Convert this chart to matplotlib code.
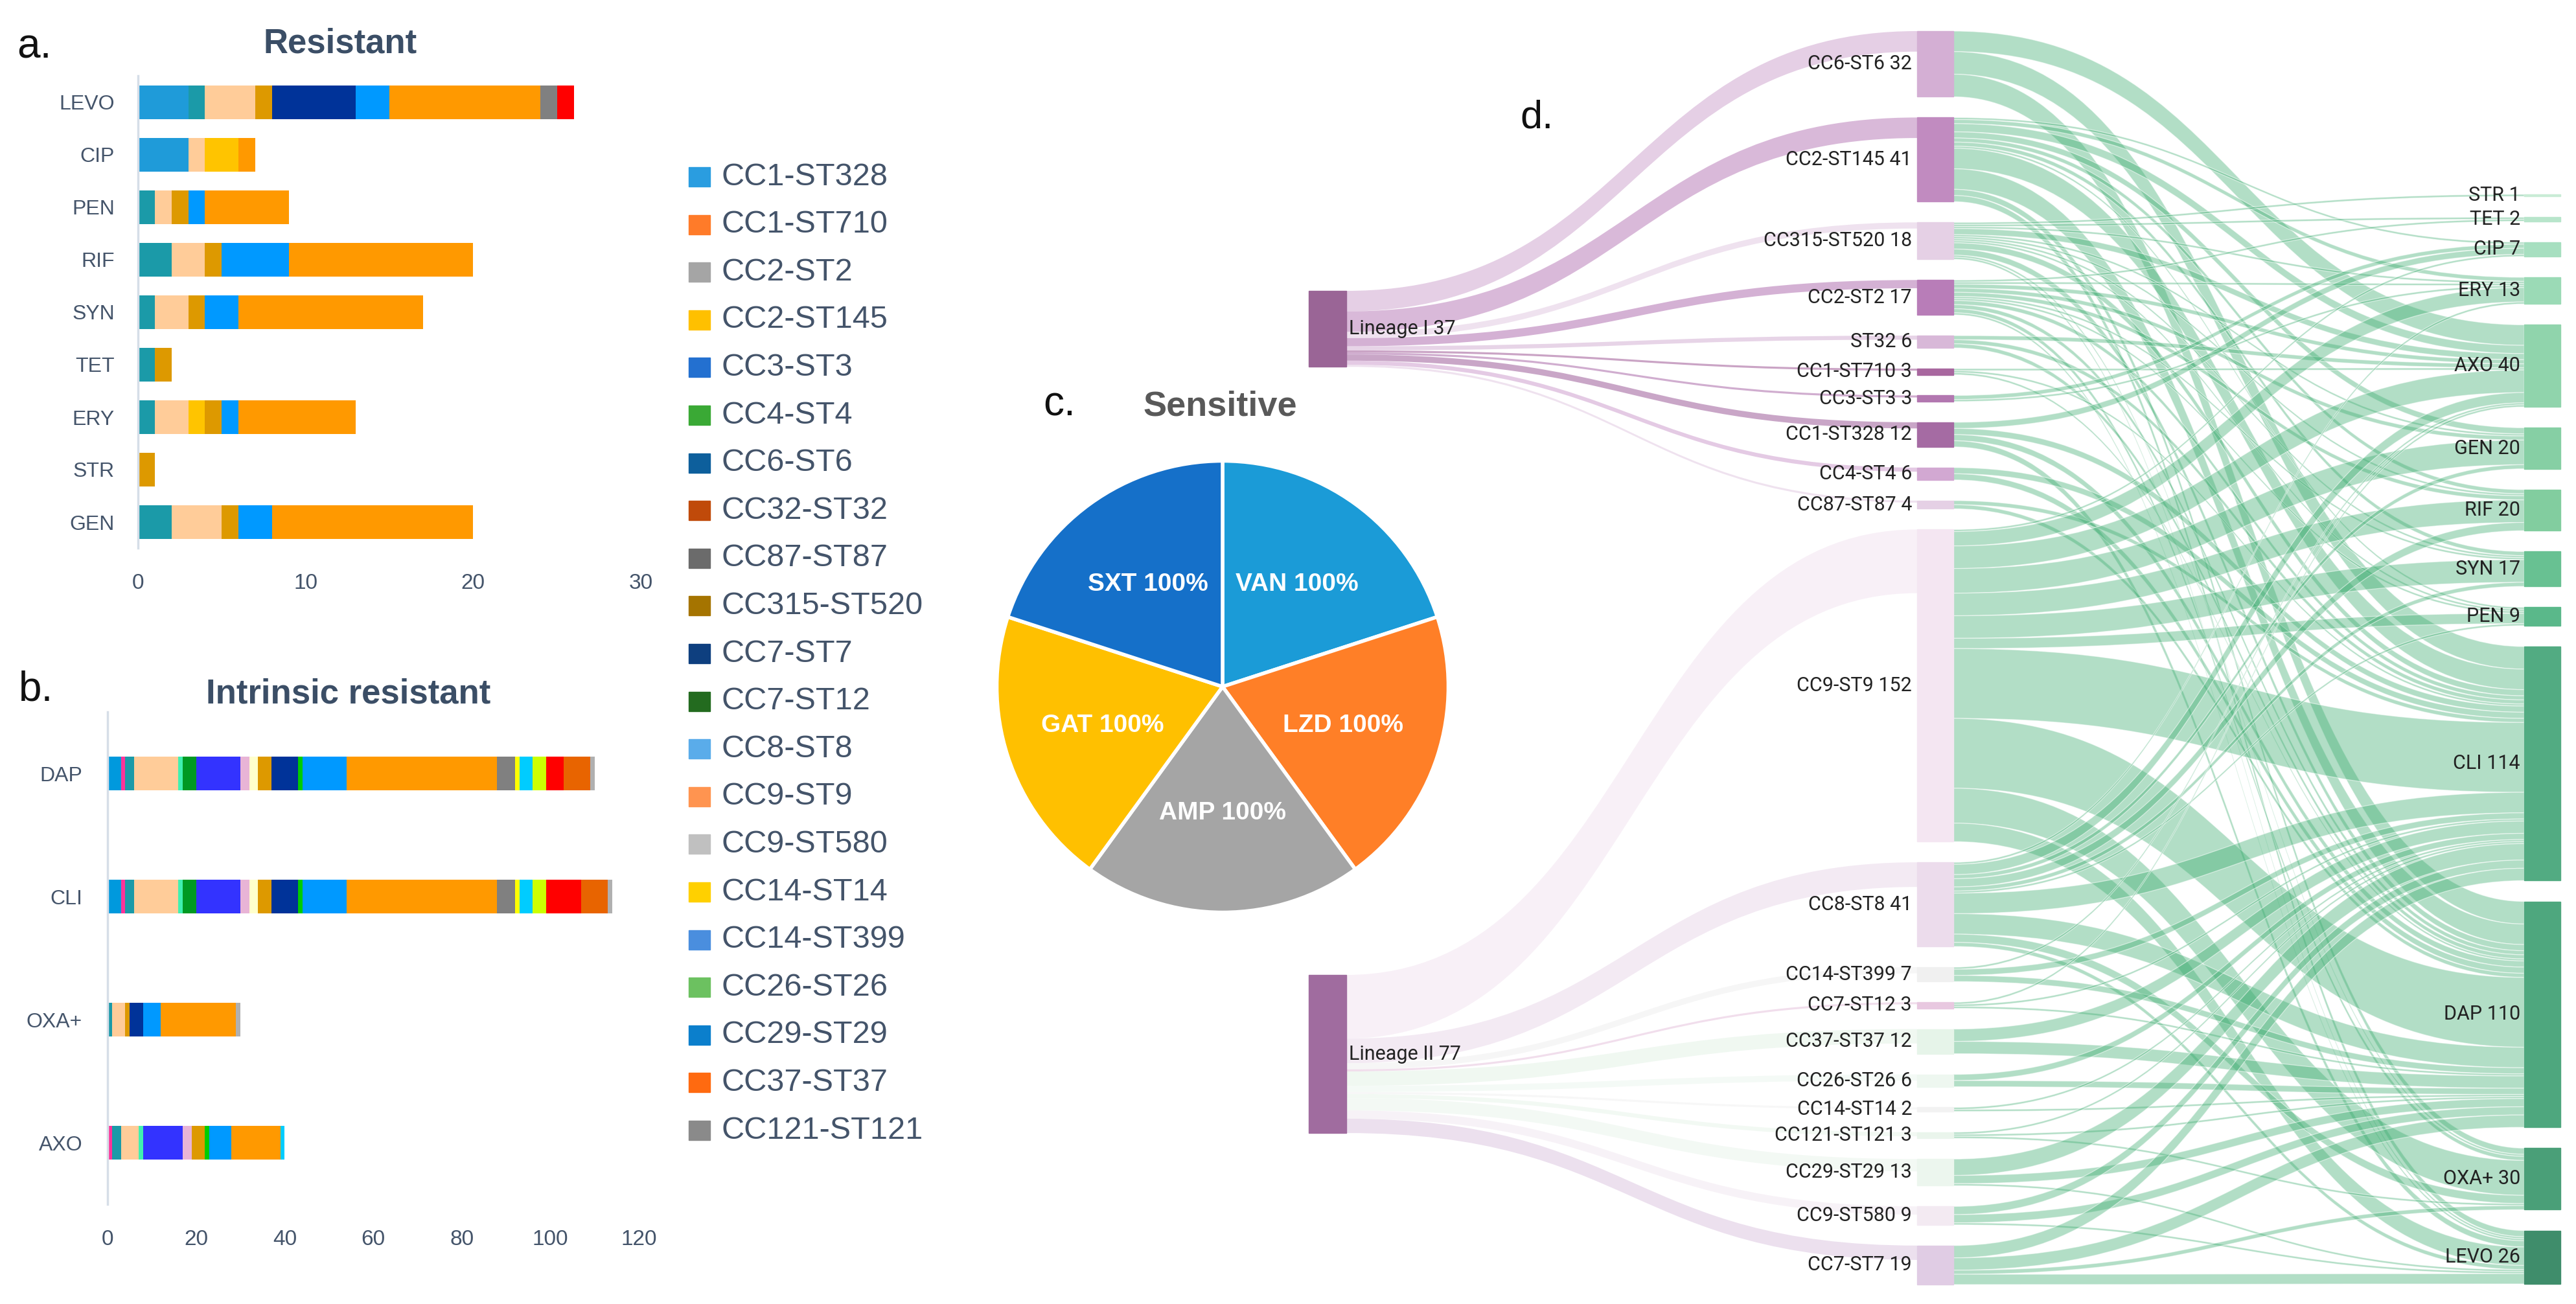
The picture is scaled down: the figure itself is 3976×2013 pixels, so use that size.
import numpy as np
import matplotlib
matplotlib.use("Agg")
import matplotlib.pyplot as plt
from matplotlib.path import Path
from matplotlib.patches import PathPatch, Rectangle
from matplotlib.colors import to_rgba

W, H = 3976, 2013

# ---------------- data ----------------
# a. resistant (stacked by lineage colour)
res_drugs = ["LEVO", "CIP", "PEN", "RIF", "SYN", "TET", "ERY", "STR", "GEN"]
res_colors = ["#1f9bd9", "#1b9aa8", "#ffcc99", "#ffc400", "#dd9900",
              "#003399", "#0099ff", "#ff9900", "#808080", "#ff0000"]
res_values = [
    [3, 3, 0, 0, 0, 0, 0, 0, 0],
    [1, 0, 1, 2, 1, 1, 1, 0, 2],
    [3, 1, 1, 2, 2, 0, 2, 0, 3],
    [0, 2, 0, 0, 0, 0, 1, 0, 0],
    [1, 0, 1, 1, 1, 1, 1, 1, 1],
    [5, 0, 0, 0, 0, 0, 0, 0, 0],
    [2, 0, 1, 4, 2, 0, 1, 0, 2],
    [9, 1, 5, 11, 11, 0, 7, 0, 12],
    [1, 0, 0, 0, 0, 0, 0, 0, 0],
    [1, 0, 0, 0, 0, 0, 0, 0, 0],
]

# b. intrinsic resistant
int_drugs = ["DAP", "CLI", "OXA+", "AXO"]
int_colors = ["#0099dd", "#ff3399", "#1b9aa8", "#ffcc99", "#40f0b0", "#009922",
              "#3333ff", "#e8b4d6", "#ffffcc", "#dd9900", "#003399", "#00cc00",
              "#0099ff", "#ff9900", "#808080", "#ffff00", "#00ccff", "#ccff00",
              "#ff0000", "#e86400", "#b0b0b0"]
int_values = [
    [3, 3, 0, 0], [1, 1, 0, 1], [2, 2, 1, 2], [10, 10, 3, 4], [1, 1, 0, 1],
    [3, 3, 0, 0], [10, 10, 0, 9], [2, 2, 0, 2], [2, 2, 0, 0], [3, 3, 1, 3],
    [6, 6, 3, 0], [1, 1, 0, 1], [10, 10, 4, 5], [34, 34, 17, 11], [4, 4, 0, 0],
    [1, 1, 0, 0], [3, 3, 0, 1], [3, 3, 0, 0], [4, 8, 0, 0], [6, 6, 0, 0],
    [1, 1, 1, 0],
]

legend_labels = ["CC1-ST328", "CC1-ST710", "CC2-ST2", "CC2-ST145", "CC3-ST3",
                 "CC4-ST4", "CC6-ST6", "CC32-ST32", "CC87-ST87", "CC315-ST520",
                 "CC7-ST7", "CC7-ST12", "CC8-ST8", "CC9-ST9", "CC9-ST580",
                 "CC14-ST14", "CC14-ST399", "CC26-ST26", "CC29-ST29",
                 "CC37-ST37", "CC121-ST121"]
legend_colors = ["#2a9de0", "#ff7b29", "#a5a5a5", "#ffc000", "#2370d0",
                 "#3aa935", "#0d5f9c", "#c04a0a", "#6b6b6b", "#a57400",
                 "#0e3f7f", "#236b1f", "#5aacea", "#ff9450", "#c0c0c0",
                 "#ffd000", "#4a8ede", "#6cc160", "#0b7fcc", "#ff6a10",
                 "#8a8a8a"]

# c. sensitive
sens_drugs = ["VAN", "LZD", "AMP", "GAT", "SXT"]
sens_pct = [100, 100, 100, 100, 100]
sens_colors = ["#1b9bd7", "#ff7f27", "#a5a5a5", "#ffc000", "#1570c9"]

# d. sankey
lineages = ["Lineage I", "Lineage II"]
st_names = ["CC6-ST6", "CC2-ST145", "CC315-ST520", "CC2-ST2", "ST32",
            "CC1-ST710", "CC3-ST3", "CC1-ST328", "CC4-ST4", "CC87-ST87",
            "CC9-ST9", "CC8-ST8", "CC14-ST399", "CC7-ST12", "CC37-ST37",
            "CC26-ST26", "CC14-ST14", "CC121-ST121", "CC29-ST29",
            "CC9-ST580", "CC7-ST7"]
st_lineage = [0] * 10 + [1] * 11
st_isolates = [10, 10, 3, 4, 2, 1, 1, 3, 2, 1,
               31, 12, 3, 1, 7, 3, 1, 2, 6, 4, 7]
st_colors = ["#d4afd4", "#c18bc0", "#e5d0e5", "#b87db8", "#d8b8d8",
             "#a8679f", "#b277b0", "#a56ba3", "#d2a8d2", "#e5d0e5",
             "#f4e6f2", "#ecdcec", "#f0f0f0", "#e8c8e0", "#e6f4e9",
             "#eef7f0", "#f2f2f2", "#eaf5ec", "#ecf6ee", "#f3eaf2", "#e0cce4"]
ab_names = ["STR", "TET", "CIP", "ERY", "AXO", "GEN", "RIF", "SYN", "PEN",
            "CLI", "DAP", "OXA+", "LEVO"]
ab_colors = ["#c9ecd6", "#b8e5cb", "#a7dfc0", "#9bdab6", "#90d4ac", "#86cfa4",
             "#82cd9f", "#68c192", "#5ab88a", "#52ab82", "#4ea77e", "#4a9f78",
             "#3f8d6b"]
flows = [
    [0, 0, 0, 0, 10, 0, 0, 0, 0, 11, 11, 0, 0],
    [0, 0, 1, 2, 4, 3, 2, 2, 1, 10, 10, 3, 3],
    [1, 1, 0, 1, 3, 1, 1, 1, 1, 3, 3, 1, 1],
    [0, 1, 0, 1, 2, 2, 2, 1, 1, 2, 2, 2, 1],
    [0, 0, 0, 0, 2, 0, 0, 0, 0, 2, 2, 0, 0],
    [0, 0, 0, 0, 1, 0, 0, 0, 0, 1, 1, 0, 0],
    [0, 0, 2, 1, 0, 0, 0, 0, 0, 0, 0, 0, 0],
    [0, 0, 3, 0, 0, 0, 0, 0, 0, 3, 3, 0, 3],
    [0, 0, 0, 0, 0, 0, 0, 0, 0, 3, 3, 0, 0],
    [0, 0, 0, 0, 0, 0, 0, 0, 0, 2, 2, 0, 0],
    [0, 0, 1, 7, 11, 12, 11, 11, 5, 34, 34, 17, 9],
    [0, 0, 0, 1, 5, 2, 4, 2, 1, 10, 10, 4, 2],
    [0, 0, 0, 0, 1, 0, 0, 0, 0, 3, 3, 0, 0],
    [0, 0, 0, 0, 1, 0, 0, 0, 0, 1, 1, 0, 0],
    [0, 0, 0, 0, 0, 0, 0, 0, 0, 6, 6, 0, 0],
    [0, 0, 0, 0, 0, 0, 0, 0, 0, 3, 3, 0, 0],
    [0, 0, 0, 0, 0, 0, 0, 0, 0, 1, 1, 0, 0],
    [0, 0, 0, 0, 0, 0, 0, 0, 0, 1, 1, 1, 0],
    [0, 0, 0, 0, 0, 0, 0, 0, 0, 8, 4, 0, 1],
    [0, 0, 0, 0, 0, 0, 0, 0, 0, 4, 4, 0, 1],
    [0, 0, 0, 0, 0, 0, 0, 0, 0, 6, 6, 2, 5],
]

# ---------------- figure ----------------
plt.rcParams["font.family"] = ["Liberation Sans", "DejaVu Sans"]
fig = plt.figure(figsize=(W / 100, H / 100), dpi=100)
fig.patch.set_facecolor("white")


def px_rect(x0, y0, x1, y1):
    return [x0 / W, 1 - y1 / H, (x1 - x0) / W, (y1 - y0) / H]


tick_col = "#44546a"
title_col = "#3b4e66"


def stacked(ax, drugs, colors, values, xmax, xstep, height):
    y = np.arange(len(drugs))
    left = np.zeros(len(drugs))
    for col, vals in zip(colors, values):
        vals = np.array(vals, float)
        ax.barh(y, vals, left=left, height=height, color=col, linewidth=0)
        left += vals
    ax.set_xlim(0, xmax)
    ax.set_ylim(len(drugs) - 0.5, -0.5)
    ax.set_xticks(np.arange(0, xmax + 1, xstep))
    ax.set_yticks(y, drugs)
    for s in ["top", "right", "bottom"]:
        ax.spines[s].set_visible(False)
    ax.spines["left"].set_color("#d6dee8")
    ax.spines["left"].set_linewidth(2.5)
    ax.tick_params(length=0, labelsize=23, colors=tick_col)
    ax.tick_params(axis="x", pad=28, labelsize=24)
    ax.tick_params(axis="y", pad=26)


ax_a = fig.add_axes(px_rect(213, 117.5, 989, 846.5))
stacked(ax_a, res_drugs, res_colors, res_values, 30, 10, 0.64)
ax_b = fig.add_axes(px_rect(166, 1099, 986, 1859))
stacked(ax_b, int_drugs, int_colors, int_values, 120, 20, 0.275)
ax_b.tick_params(axis="y", pad=28)

fig.text(26 / W, 1 - 90 / H, "a.", fontsize=46, va="baseline", color="#111")
fig.text(525 / W, 1 - 82 / H, "Resistant", fontsize=38, fontweight="bold",
         color=title_col, ha="center", va="baseline")
fig.text(29 / W, 1 - 1082 / H, "b.", fontsize=46, va="baseline", color="#111")
fig.text(538 / W, 1 - 1086 / H, "Intrinsic resistant", fontsize=38,
         fontweight="bold", color=title_col, ha="center", va="baseline")

# legend
for i, (lab, col) in enumerate(zip(legend_labels, legend_colors)):
    yc = 273 + i * 73.6
    fig.patches.append(Rectangle((1063 / W, 1 - (yc + 15) / H), 33 / W, 30 / H,
                                 color=col, transform=fig.transFigure))
    fig.text(1113 / W, 1 - yc / H, lab, fontsize=35, color=tick_col,
             va="center", ha="left")

# pie
cx, cy, r = 1887, 1060, 352
ax_c = fig.add_axes(px_rect(cx - r, cy - r, cx + r, cy + r))
wedges, texts = ax_c.pie(sens_pct, colors=sens_colors, startangle=90,
                         counterclock=False,
                         labels=[f"{d} {p}%" for d, p in zip(sens_drugs, sens_pct)],
                         labeldistance=0.56,
                         wedgeprops=dict(edgecolor="white", linewidth=4),
                         textprops=dict(color="white", fontsize=28, fontweight="bold"))
for t in texts:
    t.set_ha("center")
    t.set_va("center")
ax_c.set_xlim(-1.01, 1.01)
ax_c.set_ylim(-1.01, 1.01)
ax_c.set_aspect("equal")
fig.text(1610 / W, 1 - 641 / H, "c.", fontsize=46, va="baseline", color="#111")
fig.text(1883 / W, 1 - 641 / H, "Sensitive", fontsize=39, fontweight="bold",
         color="#595959", ha="center", va="baseline")

# sankey
ax_d = fig.add_axes([0, 0, 1, 1], zorder=-1)
ax_d.set_xlim(0, W)
ax_d.set_ylim(H, 0)
ax_d.axis("off")

ky = 3.17
x_lin, x_st, x_ab = (2020, 2078), (2959, 3015), (3896, 3952)
lin_top = [449, 1505]
flows = np.array(flows)
st_vals = flows.sum(axis=1)
ab_vals = flows.sum(axis=0)
lin_vals = [sum(v for v, l in zip(st_isolates, st_lineage) if l == k) for k in range(2)]


def stack(values, top, bottom):
    gap = (bottom - top - sum(values) * ky) / (len(values) - 1)
    out, y = [], top
    for v in values:
        out.append(y)
        y += v * ky + gap
    return out


st_y = stack(st_vals, 48, 1983)
ab_y = stack(ab_vals, 300, 1982)


def ribbon(x0, x1, y0, y1, w, color, alpha, edge=None):
    xm = (x0 + x1) / 2
    verts = [(x0, y0), (xm, y0), (xm, y1), (x1, y1), (x1, y1 + w),
             (xm, y1 + w), (xm, y0 + w), (x0, y0 + w), (x0, y0)]
    codes = [Path.MOVETO, Path.CURVE4, Path.CURVE4, Path.CURVE4, Path.LINETO,
             Path.CURVE4, Path.CURVE4, Path.CURVE4, Path.CLOSEPOLY]
    ax_d.add_patch(PathPatch(Path(verts, codes), facecolor=to_rgba(color, alpha),
                             edgecolor=edge if edge else "none",
                             linewidth=0.9 if edge else 0))


# lineage -> ST links
lin_off = list(lin_top)
for i, (n, l) in enumerate(zip(st_isolates, st_lineage)):
    w = n * ky
    ribbon(x_lin[1], x_st[0], lin_off[l], st_y[i], w, st_colors[i], 0.6)
    lin_off[l] += w

# ST -> antibiotic links
out_off = list(st_y)
in_off = list(ab_y)
for i in range(len(st_names)):
    for j in range(len(ab_names)):
        v = flows[i, j]
        if v == 0:
            continue
        w = v * ky
        ribbon(x_st[1], x_ab[0], out_off[i], in_off[j], w, "#3fae72", 0.4,
               edge=(1, 1, 1, 0.55))
        out_off[i] += w
        in_off[j] += w

# nodes
for k in range(2):
    ax_d.add_patch(Rectangle((x_lin[0], lin_top[k]), x_lin[1] - x_lin[0],
                             lin_vals[k] * ky, color=["#9a6596", "#a06c9f"][k]))
    ax_d.text(x_lin[1] + 4, lin_top[k] + lin_vals[k] * ky / 2,
              f"{lineages[k]} {lin_vals[k]}", fontsize=22, family="Roboto",
              va="center", ha="left", color="#222")
for i, name in enumerate(st_names):
    h = st_vals[i] * ky
    ax_d.add_patch(Rectangle((x_st[0], st_y[i]), x_st[1] - x_st[0], h,
                             color=st_colors[i]))
    ax_d.text(x_st[0] - 8, st_y[i] + h / 2, f"{name} {st_vals[i]}", fontsize=22,
              family="Roboto", va="center", ha="right", color="#222")
for j, name in enumerate(ab_names):
    h = ab_vals[j] * ky
    ax_d.add_patch(Rectangle((x_ab[0], ab_y[j]), x_ab[1] - x_ab[0], h,
                             color=ab_colors[j]))
    ax_d.text(x_ab[0] - 6, ab_y[j] + h / 2, f"{name} {ab_vals[j]}", fontsize=22,
              family="Roboto", va="center", ha="right", color="#222")

fig.text(2346 / W, 1 - 198 / H, "d.", fontsize=44, va="baseline", color="#111")

fig.savefig("out.png", dpi=100, facecolor="white")
